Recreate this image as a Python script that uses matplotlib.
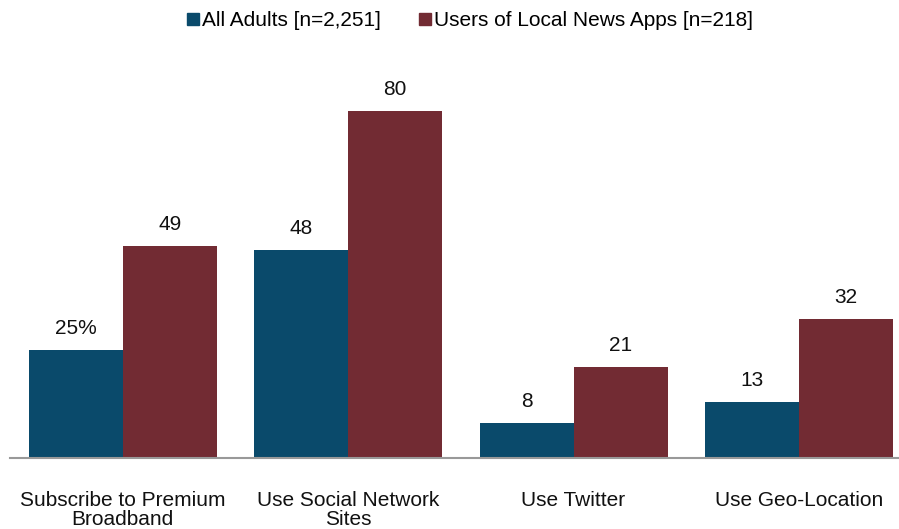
import numpy as np
import matplotlib.pyplot as plt
from matplotlib.lines import Line2D

plt.rcParams['font.family'] = ['Liberation Sans', 'DejaVu Sans']

categories = ["Subscribe to Premium\nBroadband", "Use Social Network\nSites", "Use Twitter", "Use Geo-Location"]
all_adults = [25, 48, 8, 13]
app_users = [49, 80, 21, 32]
all_labels = ["25%", "48", "8", "13"]
app_labels = ["49", "80", "21", "32"]
series_names = ["All Adults [n=2,251]", "Users of Local News Apps [n=218]"]

blue = "#0a4a6b"
red = "#722b33"
fs = 15

fig = plt.figure(figsize=(8.99, 5.29), dpi=100)
ax = fig.add_axes([10 / 899, 71 / 529, 889 / 899, 390 / 529])

x = np.arange(len(categories))
w = 0.417
b1 = ax.bar(x - w / 2, all_adults, w, color=blue)
b2 = ax.bar(x + w / 2, app_users, w, color=red)

for bars, labels in [(b1, all_labels), (b2, app_labels)]:
    for bar, lab in zip(bars, labels):
        ax.text(bar.get_x() + bar.get_width() / 2, bar.get_height() + 2.8, lab,
                ha="center", va="bottom", fontsize=fs, color="#111111")

ax.set_xlim(-0.5, 3.444)
ax.set_ylim(0, 90)
ax.set_xticks(x)
ax.set_xticklabels(categories, fontsize=fs, color="#111111", linespacing=0.95)
ax.tick_params(axis="x", length=0, pad=24)
ax.set_yticks([])
for s in ["top", "right", "left"]:
    ax.spines[s].set_visible(False)
ax.spines["bottom"].set_color("#999999")
ax.spines["bottom"].set_linewidth(1.5)

handles = [Line2D([], [], marker="s", linestyle="none", markersize=8, color=c) for c in (blue, red)]
fig.legend(handles, series_names, loc="upper center", bbox_to_anchor=(0.522, 1.015), ncol=2,
           frameon=False, fontsize=fs, handletextpad=0.05, columnspacing=1.8, handlelength=0.7)

fig.savefig("out.png", dpi=100)
